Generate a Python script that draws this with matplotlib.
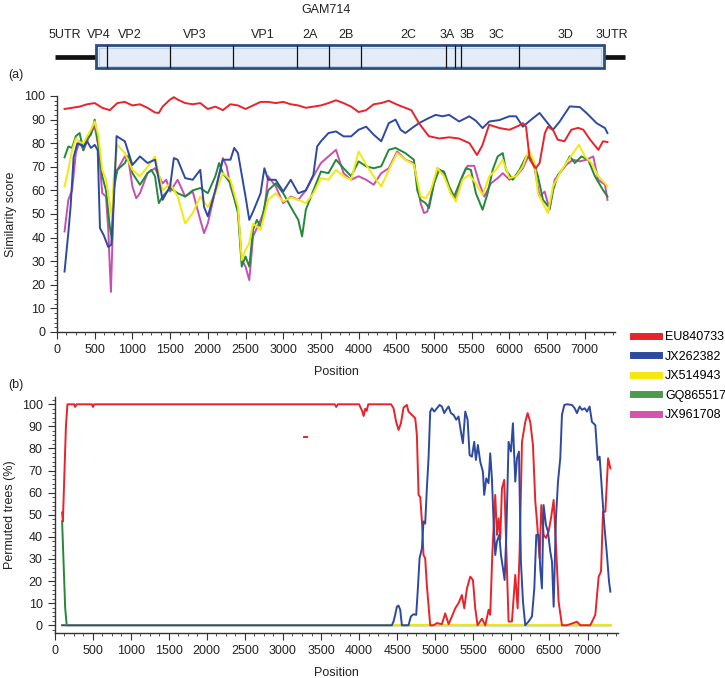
"""
Similarity plot (a) and bootscan (b) for GAM714 against five reference strains,
with the genome map drawn above.
"""
import matplotlib
matplotlib.use("Agg")
import matplotlib.pyplot as plt
from matplotlib.lines import Line2D
from matplotlib.patches import Rectangle
from matplotlib.ticker import MultipleLocator

plt.rcParams["font.family"] = ["Liberation Sans", "DejaVu Sans"]
FS = 9

# ---- genome map ----
region_names = ["5UTR", "VP4", "VP2", "VP3", "VP1", "2A", "2B", "2C", "3A", "3B", "3C", "3D", "3UTR"]
region_label_pos = [106, 550, 968, 1830, 2725, 3355, 3832, 4655, 5172, 5437, 5822, 6737, 7360]
region_bounds = [517, 663, 1499, 2334, 3183, 3607, 4031, 5158, 5278, 5357, 6126, 7254]
genome_ends = [-27, 7532]

strains = ["EU840733", "JX262382", "JX514943", "GQ865517", "JX961708"]
colors = ["#e8232a", "#2e4aa0", "#f4e80e", "#23883a", "#c64fb2"]
legend_colors = ["#e8232a", "#2e4aa0", "#f4e80e", "#4c9a4c", "#d353ad"]

# ---- (a) similarity score ----
pos_eu = [100, 200, 300, 400, 500, 600, 700, 800, 900, 1000, 1100, 1200, 1300, 1350, 1400, 1500,
          1550, 1600, 1700, 1800, 1900, 2000, 2100, 2200, 2300, 2400, 2500, 2600, 2700, 2800, 2900,
          3000, 3100, 3200, 3300, 3400, 3500, 3600, 3700, 3800, 3900, 4000, 4100, 4200, 4300, 4400,
          4500, 4570, 4700, 4800, 4930, 5070, 5200, 5330, 5470, 5570, 5640, 5730, 5870, 6000, 6130,
          6180, 6220, 6270, 6350, 6400, 6470, 6510, 6580, 6640, 6730, 6820, 6910, 6980, 7070, 7180,
          7240, 7300]
sim_eu = [94.5, 95, 95.5, 96.5, 97, 95, 94, 97, 97.5, 96, 96.5, 95, 93, 92.8, 95.5, 98.5,
          99.5, 98.5, 97, 96.5, 97, 94.5, 95.5, 94, 96.5, 96, 94.5, 96, 97.5, 97.5, 97,
          97.5, 96.5, 96, 95, 95.5, 96, 97, 98.2, 97, 95.5, 93.2, 94, 96.5, 97, 98,
          96.5, 95.6, 94, 88.5, 83, 82, 82.5, 82, 80, 75, 79, 87.8, 86.4, 85.7, 87.5,
          88.5, 87, 73, 69.4, 71.6, 84.3, 87, 85.5, 81.5, 80.8, 85.7, 86.5, 85.7, 81.5, 77.2,
          80.8, 80.5]

pos_jx262 = [100, 150, 180, 220, 270, 350, 400, 450, 500, 540, 570, 620, 680, 720, 760, 790,
             900, 1000, 1100, 1200, 1300, 1400, 1500, 1550, 1600, 1700, 1800, 1900, 1950, 2000,
             2100, 2200, 2300, 2350, 2400, 2500, 2550, 2600, 2700, 2750, 2800, 2900, 3000, 3100,
             3200, 3300, 3400, 3450, 3500, 3600, 3700, 3800, 3900, 4000, 4100, 4200, 4300, 4400,
             4490, 4556, 4620, 4707, 4800, 4933, 5022, 5111, 5200, 5333, 5467, 5555, 5644, 5733,
             5867, 5998, 6089, 6178, 6289, 6400, 6489, 6578, 6667, 6800, 6933, 7022, 7156, 7267, 7300]
sim_jx262 = [25.6, 42, 53, 74, 80, 78.6, 80.8, 78, 79.3, 77, 44, 41, 36, 37, 60, 83,
             80.8, 70.8, 74.4, 71.6, 73, 56, 61.7, 73.7, 73, 65.2, 64.5, 68.7, 53, 49,
             60, 73, 73, 78, 75.8, 57.4, 47.5, 51, 58.8, 69.4, 64.5, 64.5, 59.5, 64.5,
             58.8, 60, 66.6, 78.6, 80.8, 84.3, 85, 82.9, 82.9, 85.7, 87, 83.6, 80.8, 88.5,
             90, 85.7, 84.3, 86.4, 88.5, 90.7, 92, 91.4, 92, 89.2, 91.4, 89.5, 86.4, 89.2,
             89.8, 91.4, 91.4, 87, 90, 92.8, 89.2, 85.7, 89.2, 95.6, 95.3, 92.8, 88.5, 86.4, 84.3]

pos_jx514 = [100, 150, 200, 250, 300, 350, 400, 450, 500, 550, 600, 650, 700, 730, 750, 800,
             900, 1000, 1100, 1200, 1300, 1400, 1500, 1600, 1700, 1800, 1900, 2000, 2100, 2200,
             2300, 2400, 2450, 2500, 2550, 2600, 2700, 2800, 2900, 3000, 3100, 3200, 3300, 3400,
             3500, 3600, 3700, 3800, 3900, 4000, 4100, 4200, 4300, 4400, 4511, 4620, 4733, 4822,
             4889, 4956, 5044, 5133, 5222, 5289, 5378, 5467, 5555, 5644, 5733, 5822, 5911, 6000,
             6089, 6178, 6258, 6333, 6378, 6445, 6511, 6578, 6667, 6755, 6844, 6922, 7000, 7089,
             7178, 7267, 7300]
sim_jx514 = [61.7, 68.7, 77, 82, 80.5, 80, 83, 85.7, 89.2, 83, 68.7, 64.5, 54.6, 47.5, 64.5, 79.3,
             75.8, 68.7, 66, 70, 74.4, 60, 63, 57.4, 46, 50.4, 57.4, 53, 58.8, 67.3,
             64.5, 53, 30.5, 34.8, 37.6, 46, 43.3, 56, 58.8, 55.3, 57, 56, 54.6, 58.8,
             65.2, 64.5, 68.7, 66, 64.5, 76.5, 70.9, 66, 61.7, 68.7, 75.8, 73, 70.9, 57.4,
             56.7, 60, 69.4, 66, 58.8, 55.3, 64.5, 66.6, 63, 58, 66, 68.7, 73, 65.2,
             66, 70.2, 77.2, 71.6, 58.8, 54.6, 50.4, 61.7, 67.3, 71.6, 75.8, 79.3, 74.4, 71.6,
             66, 63, 61.7]

pos_gq = [100, 150, 200, 250, 300, 350, 400, 450, 500, 550, 600, 650, 700, 730, 750, 800,
          900, 950, 1000, 1100, 1200, 1250, 1300, 1350, 1400, 1500, 1600, 1700, 1800, 1900,
          2000, 2100, 2150, 2200, 2300, 2400, 2450, 2500, 2550, 2600, 2650, 2700, 2750, 2800,
          2900, 3000, 3100, 3200, 3250, 3300, 3400, 3500, 3600, 3700, 3800, 3900, 4000, 4100,
          4200, 4300, 4400, 4490, 4620, 4733, 4778, 4822, 4889, 4933, 5000, 5067, 5133, 5200,
          5267, 5355, 5422, 5489, 5555, 5644, 5711, 5778, 5844, 5911, 5955, 6044, 6133, 6222,
          6311, 6378, 6445, 6533, 6578, 6644, 6733, 6800, 6867, 6955, 7044, 7133, 7244, 7300]
sim_gq = [74, 78.6, 78, 83, 84.3, 77, 82, 83.6, 90, 78.6, 66, 60, 44.7, 39, 60, 68.7,
          71.6, 75, 67.3, 62.4, 67.3, 68.7, 66, 54.6, 57.4, 61, 58.8, 57.4, 60, 61,
          58.8, 66, 71.6, 67.3, 63, 50.4, 27.7, 32, 27.7, 43.3, 47.5, 44.7, 53, 60,
          63, 58.8, 53, 47.5, 40.5, 51.8, 60, 68, 67.3, 73, 69.4, 66, 72.3, 70.2,
          69.4, 70.2, 77.2, 78, 75.8, 73, 60, 56, 54.6, 52.5, 63, 68.7, 68, 61.7,
          57.4, 64.5, 69.4, 68.7, 58.8, 51.8, 58.8, 68.7, 74.4, 75.8, 68.7, 64.5, 68.7, 74.4,
          73, 66, 56, 52.5, 60, 66.6, 70.2, 74.4, 71.6, 74.4, 73, 66, 60, 57.4]

pos_jx961 = [100, 150, 200, 250, 300, 350, 400, 450, 500, 550, 600, 650, 680, 700, 715, 740,
             760, 800, 900, 950, 1000, 1050, 1100, 1200, 1300, 1400, 1450, 1500, 1600, 1700,
             1800, 1900, 1950, 2000, 2100, 2200, 2250, 2300, 2400, 2450, 2500, 2550, 2600, 2700,
             2750, 2800, 2900, 3000, 3100, 3200, 3300, 3400, 3500, 3600, 3700, 3800, 3900, 4000,
             4100, 4200, 4300, 4400, 4511, 4620, 4733, 4822, 4867, 4911, 4978, 5044, 5133, 5222,
             5289, 5378, 5444, 5533, 5600, 5667, 5755, 5844, 5911, 6000, 6089, 6178, 6258, 6333,
             6400, 6467, 6533, 6600, 6667, 6755, 6844, 6933, 7022, 7111, 7178, 7267, 7300]
sim_jx961 = [42.6, 56, 60, 75.8, 80.8, 77, 80.8, 84.3, 87, 78.6, 58.8, 57.4, 43.3, 27.7, 17, 43.3,
             64.5, 68.7, 74.4, 72.3, 61.7, 56.7, 58.8, 67.3, 69.4, 63, 64.5, 59.5, 64.5, 57.4,
             59.5, 47.5, 41.9, 46, 60, 73.7, 70.2, 61.7, 51.8, 30.5, 27.7, 22, 40.5, 47.5,
             51.8, 66, 61.7, 54.6, 57.4, 56, 60, 66, 71.6, 74.4, 77.2, 67.3, 64.5, 66,
             64.5, 62.4, 67.3, 69.4, 76.5, 73, 71.6, 54.6, 50.4, 51, 60, 69.4, 67.3, 58.8,
             56.7, 66, 70.4, 70.4, 63, 57.4, 63, 65.2, 67.3, 64.5, 66, 69.4, 75, 69.4,
             57.4, 59.5, 51.8, 64.5, 67.3, 70.9, 73, 72.3, 73, 74.4, 64.5, 62.4, 56]

# ---- (b) bootscan, permuted trees (%) ----
boot_pos_eu = [100, 110, 150, 170, 260, 270, 290, 490, 505, 520, 3680, 3700, 3720, 4000, 4040,
               4060, 4080, 4100, 4120, 4420, 4452, 4487, 4518, 4549, 4584, 4627, 4649, 4693, 4737,
               4759, 4781, 4803, 4825, 4846, 4868, 4890, 4934, 4978, 5022, 5087, 5131, 5175, 5219,
               5263, 5306, 5350, 5381, 5416, 5460, 5495, 5525, 5556, 5613, 5657, 5701, 5722, 5749,
               5788, 5810, 5832, 5854, 5876, 5906, 5933, 5963, 6007, 6051, 6082, 6108, 6139, 6182,
               6213, 6248, 6283, 6314, 6336, 6371, 6393, 6423, 6454, 6489, 6520, 6555, 6585, 6620,
               6664, 6730, 6861, 6905, 7036, 7102, 7146, 7177, 7203, 7234, 7270, 7300]
boot_eu = [51, 47, 90, 100, 100, 98.8, 100, 100, 98.8, 100, 100, 98.8, 100, 100, 97,
           94.7, 98, 97, 100, 100, 98.2, 92, 88.4, 91.4, 98.5, 99.7, 96.7, 95.2, 93.7,
           86, 59, 58, 47, 31.8, 30.3, 18, 0, 0, 1, 0.5, 5.4, 0.5, 4,
           7.7, 10, 13.7, 7.7, 16.7, 22, 20.5, 7.7, 0, 3, 0, 7, 4.7, 31.8,
           59, 40.9, 48.4, 39, 62, 65.8, 34.8, 1.7, 1.7, 22.8, 7.7, 33.3, 83, 92,
           96, 92, 81.6, 56, 47, 30.3, 54.4, 40.9, 39.5, 42.4, 48.4, 56.7, 36.3, 10.7,
           0, 0, 1.6, 0, 0, 4.7, 22, 24.3, 51.4, 51.4, 75.6, 71]
stray_pos = [3275, 3310]
stray_val = [85, 85]

boot_pos_jx262 = [100, 4430, 4452, 4474, 4496, 4518, 4540, 4562, 4649, 4680, 4715, 4750, 4772,
                  4794, 4825, 4846, 4868, 4890, 4912, 4934, 4956, 4987, 5022, 5057, 5087, 5118,
                  5144, 5175, 5206, 5241, 5276, 5306, 5337, 5363, 5394, 5425, 5451, 5482, 5512,
                  5534, 5560, 5591, 5626, 5643, 5670, 5700, 5722, 5744, 5766, 5788, 5810, 5841,
                  5863, 5889, 5911, 5933, 5963, 5994, 6020, 6051, 6073, 6099, 6125, 6152, 6182,
                  6226, 6270, 6301, 6327, 6358, 6379, 6401, 6423, 6454, 6480, 6511, 6533, 6555,
                  6585, 6612, 6642, 6664, 6695, 6730, 6796, 6831, 6861, 6896, 6927, 6962, 6993,
                  7027, 7058, 7102, 7133, 7159, 7190, 7220, 7255, 7282, 7300]
boot_jx262 = [0, 0, 1.7, 4.7, 8.4, 8.9, 7, 0, 0, 4, 5, 4.7, 16.7,
              30.3, 34.8, 47, 46, 62, 75.6, 96.7, 98.2, 96.7, 98.2, 99.7, 99, 96,
              97.5, 99, 96, 95.2, 93, 94.5, 87.6, 82.4, 96.7, 93, 77, 76.3, 83,
              74.8, 81.6, 74, 69.5, 59, 66.5, 64.3, 77.8, 66.5, 47, 31.8, 37.9, 40.9,
              31.8, 25.8, 20.5, 40.9, 83, 78.6, 91.4, 65, 75.6, 78.6, 28.8, 10.7, 0,
              1.7, 4, 16.7, 40.9, 40.9, 25.8, 16.7, 54.4, 45.4, 42.4, 33.3, 28.8, 8.4,
              48.4, 65, 75.6, 95.2, 99.7, 100, 99.7, 98.2, 96, 99, 97.5, 98.2, 96.7,
              99, 92, 90.6, 74.8, 76.3, 60.5, 45.4, 31.8, 19.8, 15.2]

boot_pos_jx514 = [100, 7300]
boot_jx514 = [0, 0]

boot_pos_gq = [100, 140, 160, 7300]
boot_gq = [47, 8, 0, 0]

W, H = 725, 678
fig = plt.figure(figsize=(W / 100, H / 100), dpi=100)

ax_g = fig.add_axes([57 / W, 1 - 72 / H, 558 / W, 32 / H])
ax_a = fig.add_axes([57 / W, 1 - 332 / H, 558 / W, 236 / H])
ax_b = fig.add_axes([54.5 / W, 1 - 633 / H, 563.5 / W, 236 / H])

# genome map
ax_g.set_xlim(0, 7400)
ax_g.set_ylim(0, 1)
ax_g.axis("off")
ax_g.plot(genome_ends, [0.47, 0.47], color="#111111", lw=3.4, clip_on=False, solid_capstyle="butt")
ax_g.add_patch(Rectangle((region_bounds[0], 0.12), region_bounds[-1] - region_bounds[0], 0.72,
                         facecolor="#e4edf7", edgecolor="#2d4d7c", lw=2.0, zorder=3))
ax_g.add_patch(Rectangle((region_bounds[0] + 35, 0.2), region_bounds[-1] - region_bounds[0] - 70, 0.56,
                         facecolor="none", edgecolor="#b9cfe6", lw=0.8, zorder=3))
ax_g.vlines(region_bounds[1:-1], 0.12, 0.84, color="#111111", lw=0.9, zorder=4)
for name, x in zip(region_names, region_label_pos):
    ax_g.text(x, 1.17, name, ha="center", va="center", fontsize=FS, color="#222222")
ax_g.text(3567, 1.94, "GAM714", ha="center", va="center", fontsize=FS, color="#222222")


def style_axes(ax, xpad):
    for s in ("top", "right"):
        ax.spines[s].set_visible(False)
    for s in ("left", "bottom"):
        ax.spines[s].set_color("#333333")
        ax.spines[s].set_linewidth(1.0)
    ax.set_xlim(0, 7400)
    ax.xaxis.set_minor_locator(MultipleLocator(125))
    ax.yaxis.set_major_locator(MultipleLocator(10))
    ax.yaxis.set_minor_locator(MultipleLocator(2))
    ax.set_xticks(range(0, 7001, 500))
    ax.tick_params(which="major", length=5, width=0.8, color="#333333",
                   labelsize=FS, labelcolor="#222222")
    ax.tick_params(which="minor", length=2.5, width=0.6, color="#333333")
    ax.set_xlabel("Position", fontsize=FS, color="#222222", labelpad=xpad)


# (a)
series_a = [(pos_eu, sim_eu), (pos_jx262, sim_jx262), (pos_jx514, sim_jx514),
            (pos_gq, sim_gq), (pos_jx961, sim_jx961)]
draw_order = [4, 3, 2, 1, 0]
for i in draw_order:
    x, y = series_a[i]
    ax_a.plot(x, y, color=colors[i], lw=1.4)
ax_a.set_ylim(0, 100)
style_axes(ax_a, 7)
ax_a.set_ylabel("Similarity score", fontsize=FS, color="#222222", labelpad=5)

# (b)
ax_b.plot(boot_pos_gq, boot_gq, color=colors[3], lw=1.4)
ax_b.plot(boot_pos_jx514, boot_jx514, color=colors[2], lw=1.4)
ax_b.plot(boot_pos_eu, boot_eu, color=colors[0], lw=1.4)
ax_b.plot(stray_pos, stray_val, color=colors[0], lw=1.4)
ax_b.plot(boot_pos_jx262, boot_jx262, color=colors[1], lw=1.4)
ax_b.set_ylim(-3.5, 103.3)
style_axes(ax_b, 7)
ax_b.set_ylabel("Permuted trees (%)", fontsize=FS, color="#222222", labelpad=4)

fig.text(8 / W, 1 - 75 / H, "(a)", fontsize=FS, va="center", color="#222222")
fig.text(8 / W, 1 - 385 / H, "(b)", fontsize=FS, va="center", color="#222222")

handles = [Line2D([], [], color=c, lw=5) for c in legend_colors]
fig.legend(handles, strains, loc="upper left", bbox_to_anchor=(628 / W, 1 - 326 / H),
           frameon=False, fontsize=FS, handlelength=2.1, handletextpad=0.45,
           labelspacing=0.6, borderaxespad=0)

fig.savefig("out.png", dpi=100)
plt.close(fig)
